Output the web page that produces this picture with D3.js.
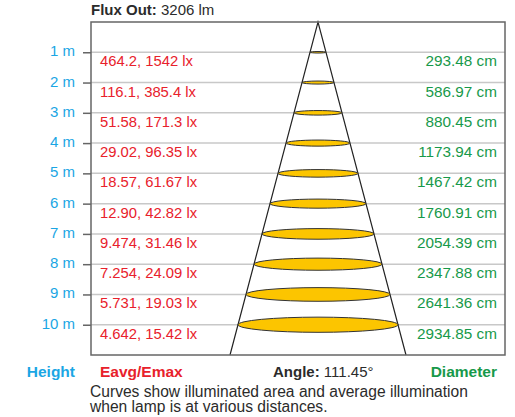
<!DOCTYPE html>
<html><head><meta charset="utf-8">
<script src="https://cdn.jsdelivr.net/npm/d3@7/dist/d3.min.js"></script>
<style>body{margin:0;background:#fff}svg{display:block;font-family:"Liberation Sans",Arial,sans-serif}</style>
</head><body><svg id="c" width="515" height="417"></svg>
<script>
const heights = [1,2,3,4,5,6,7,8,9,10];
const heightLabels = ["1 m","2 m","3 m","4 m","5 m","6 m","7 m","8 m","9 m","10 m"];
const eavg = ["464.2","116.1","51.58","29.02","18.57","12.90","9.474","7.254","5.731","4.642"];
const emax = ["1542","385.4","171.3","96.35","61.67","42.82","31.46","24.09","19.03","15.42"];
const diameters = [293.48,586.97,880.45,1173.94,1467.42,1760.91,2054.39,2347.88,2641.36,2934.85];
const fluxOut = "3206 lm";
const beamAngle = "111.45°";

(function(){
const FONT = '"Liberation Sans",Arial,sans-serif';
const svg = d3.select("#c");
const pL = 91, pR = 505, pT = 22, pB = 355;
const y = d3.scaleLinear().domain([0, 11]).range([pT, pB]);
const cx = 318;
const x = d3.scaleLinear().domain([0, 2934.85]).range([0, 160]);
const halfAngle = 111.45 / 2 * Math.PI / 180;
const diamAt = h => 2 * h * 100 * Math.tan(halfAngle);

const blue = "#1aa6e4", red = "#e8212b", green = "#17994a", dark = "#2b2b2b";

svg.append("g").selectAll("line").data(heights).join("line")
  .attr("x1", pL).attr("x2", pR)
  .attr("y1", d => y(d)).attr("y2", d => y(d))
  .attr("stroke", "#c8c8c8").attr("stroke-width", 1.5);

const axis = d3.axisLeft(y).tickValues(heights).tickFormat((d, i) => heightLabels[i]).tickSize(8).tickPadding(8);
const ag = svg.append("g").attr("transform", `translate(${pL},0)`).call(axis);
ag.select(".domain").remove();
ag.attr("font-family", FONT);
ag.selectAll(".tick line").attr("stroke", "#666").attr("stroke-width", 1.5);
ag.selectAll(".tick text").attr("fill", blue).attr("font-size", 15).attr("dy", 3.5).attr("x", -16);

const coneH = 11;
svg.append("path")
  .attr("d", d3.line()([[cx - x(diamAt(coneH)) / 2, y(coneH)], [cx, y(0)], [cx + x(diamAt(coneH)) / 2, y(coneH)]]))
  .attr("fill", "none").attr("stroke", "#222").attr("stroke-width", 1.2);

svg.append("g").selectAll("ellipse").data(diameters).join("ellipse")
  .attr("cx", cx).attr("cy", (d, i) => y(heights[i]))
  .attr("rx", d => x(d) / 2).attr("ry", d => x(d) / 2 * 0.095)
  .attr("fill", "#fcc500").attr("stroke", "#333").attr("stroke-width", 1);

svg.append("rect").attr("x", pL).attr("y", pT).attr("width", pR - pL).attr("height", pB - pT)
  .attr("fill", "none").attr("stroke", "#666").attr("stroke-width", 1.5);

svg.append("g").selectAll("text").data(heights).join("text")
  .attr("x", 100).attr("y", d => y(d) + 14)
  .attr("fill", red).attr("font-size", 14.8)
  .text((d, i) => `${eavg[i]}, ${emax[i]} lx`);

svg.append("g").selectAll("text").data(diameters).join("text")
  .attr("x", 497).attr("y", (d, i) => y(heights[i]) + 14)
  .attr("text-anchor", "end").attr("fill", green).attr("font-size", 15.3)
  .text(d => d.toFixed(2) + " cm");

const t = svg.append("text").attr("x", 91).attr("y", 15).attr("fill", dark).attr("font-size", 15);
t.append("tspan").attr("font-weight", "bold").text("Flux Out: ");
t.append("tspan").text(fluxOut);

svg.append("text").attr("x", 75).attr("y", 377).attr("text-anchor", "end").attr("fill", blue)
  .attr("font-size", 15.5).attr("font-weight", "bold").text("Height");
svg.append("text").attr("x", 100).attr("y", 377).attr("fill", red)
  .attr("font-size", 15.5).attr("font-weight", "bold").text("Eavg/Emax");
const a = svg.append("text").attr("x", 273).attr("y", 377).attr("fill", dark).attr("font-size", 15);
a.append("tspan").attr("font-weight", "bold").text("Angle: ");
a.append("tspan").text(beamAngle);
svg.append("text").attr("x", 497).attr("y", 377).attr("text-anchor", "end").attr("fill", green)
  .attr("font-size", 15.5).attr("font-weight", "bold").text("Diameter");

svg.append("text").attr("x", 90).attr("y", 397).attr("fill", dark).attr("font-size", 15.6)
  .text("Curves show illuminated area and average illumination");
svg.append("text").attr("x", 90).attr("y", 411.5).attr("fill", dark).attr("font-size", 15.6)
  .text("when lamp is at various distances.");
})();
</script></body></html>
